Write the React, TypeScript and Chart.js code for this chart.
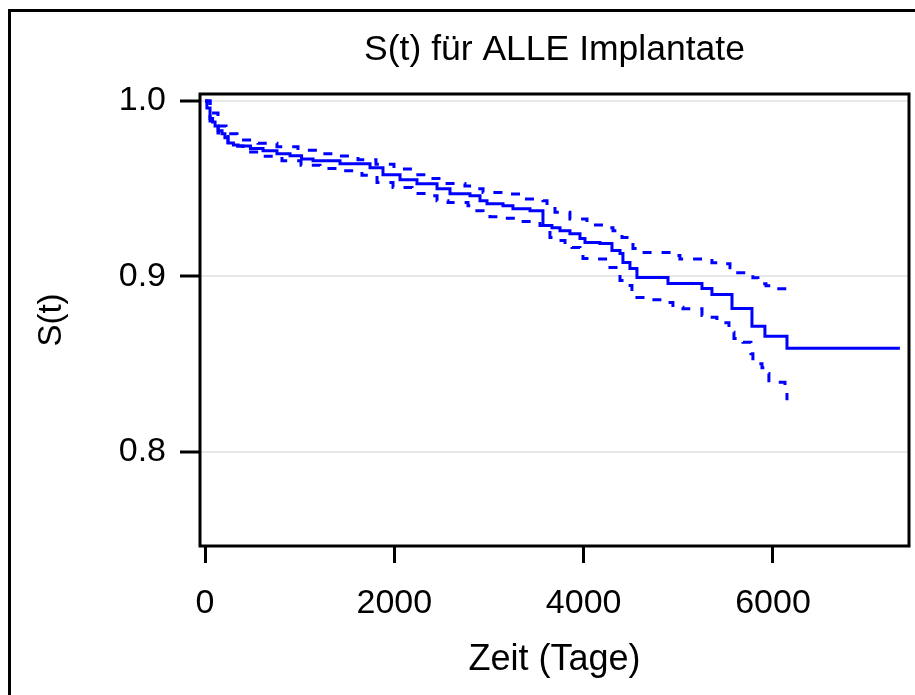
import { useEffect, useRef } from 'react';
import { Chart, registerables } from 'chart.js';

Chart.register(...registerables);

// Kaplan-Meier estimate S(t), all implants (time in days)
const mainTime = [0, 20, 53, 80, 106, 140, 180, 210, 243, 300, 349, 480, 613, 760, 898, 1020, 1141, 1426, 1743, 1880, 2060, 2239, 2451, 2588, 2799, 2905, 2979, 3148, 3253, 3433, 3570, 3665, 3750, 3855, 3961, 4014, 4172, 4299, 4384, 4415, 4489, 4563, 4891, 5250, 5355, 5567, 5778, 5915, 6148, 7341];
const mainSurv = [1.0, 0.996, 0.99, 0.988, 0.9858, 0.983, 0.9813, 0.979, 0.9761, 0.975, 0.9744, 0.973, 0.9716, 0.97, 0.9688, 0.967, 0.9659, 0.9642, 0.9619, 0.958, 0.9551, 0.9528, 0.95, 0.9472, 0.946, 0.9432, 0.9415, 0.9403, 0.9386, 0.9375, 0.929, 0.9278, 0.926, 0.9244, 0.9216, 0.9193, 0.9188, 0.9148, 0.9131, 0.908, 0.9045, 0.8994, 0.896, 0.8932, 0.8898, 0.8818, 0.8716, 0.8659, 0.8591, 0.8591];

// upper confidence limit
const upperTime = [0, 53, 137, 222, 338, 560, 760, 982, 1183, 1415, 1616, 1806, 1996, 2197, 2356, 2535, 2746, 2820, 2937, 3148, 3349, 3570, 3613, 3697, 3855, 4035, 4278, 4310, 4405, 4458, 4521, 4574, 4933, 5017, 5355, 5429, 5546, 5588, 5725, 5788, 5841, 5926, 6042, 6148];
const upperSurv = [1.0, 0.9932, 0.9858, 0.9813, 0.9778, 0.9759, 0.9739, 0.972, 0.97, 0.9686, 0.9665, 0.964, 0.9612, 0.958, 0.9558, 0.953, 0.9516, 0.95, 0.9478, 0.947, 0.9441, 0.9432, 0.9403, 0.9366, 0.9328, 0.9293, 0.9278, 0.9261, 0.9222, 0.9193, 0.916, 0.9137, 0.9119, 0.91, 0.9078, 0.9072, 0.905, 0.9021, 0.9021, 0.8993, 0.8958, 0.8947, 0.893, 0.8907];

// lower confidence limit
const lowerTime = [0, 53, 137, 243, 401, 613, 813, 1014, 1215, 1447, 1658, 1817, 1986, 2187, 2398, 2451, 2567, 2778, 2831, 2937, 3010, 3148, 3338, 3539, 3581, 3644, 3697, 3803, 3877, 3961, 3993, 4141, 4278, 4362, 4384, 4447, 4510, 4563, 4669, 4891, 4943, 5049, 5250, 5334, 5408, 5535, 5588, 5683, 5767, 5788, 5884, 5926, 5957, 6127, 6148];
const lowerSurv = [1.0, 0.9886, 0.9818, 0.9744, 0.971, 0.9685, 0.9659, 0.9634, 0.9615, 0.9602, 0.9577, 0.9535, 0.9507, 0.9473, 0.946, 0.9432, 0.9422, 0.9403, 0.9375, 0.9358, 0.9341, 0.9332, 0.9314, 0.929, 0.9261, 0.9222, 0.9205, 0.9176, 0.9165, 0.9131, 0.9102, 0.91, 0.9051, 0.904, 0.8977, 0.8949, 0.8909, 0.888, 0.8868, 0.8852, 0.8824, 0.8816, 0.8778, 0.8767, 0.8737, 0.8682, 0.8647, 0.8625, 0.856, 0.8503, 0.848, 0.8447, 0.8397, 0.8361, 0.8295];

const xTickValues = [0, 2000, 4000, 6000];
const yTickValues = [0.8, 0.9, 1.0];

const chartTitle = 'S(t) für ALLE Implantate';
const xTitle = 'Zeit (Tage)';
const yTitle = 'S(t)';

const toPoints = (t: number[], s: number[]) => t.map((x, i) => ({ x, y: s[i] }));

const FONT = "'Liberation Sans', Arial, Helvetica, sans-serif";
const BLUE = '#0000ff';

export default function App() {
  const ref = useRef<HTMLCanvasElement | null>(null);

  useEffect(() => {
    if (!ref.current) return;
    const framePlugin = {
      id: 'framePlugin',
      beforeDraw(chart: any) {
        const ctx = chart.ctx;
        ctx.save();
        ctx.fillStyle = '#ffffff';
        ctx.fillRect(0, 0, chart.width, chart.height);
        ctx.strokeStyle = '#000000';
        ctx.lineWidth = 3;
        ctx.strokeRect(9.5, 10.5, 2000, 2000);
        ctx.restore();
      },
      afterDraw(chart: any) {
        const { left, top, right, bottom } = chart.chartArea;
        const ctx = chart.ctx;
        ctx.save();
        ctx.strokeStyle = '#000000';
        ctx.lineWidth = 3;
        ctx.strokeRect(left, top, right - left, bottom - top);
        ctx.restore();
      },
    };

    const chart = new Chart(ref.current, {
      type: 'line',
      data: {
        datasets: [
          {
            data: toPoints(upperTime, upperSurv),
            borderColor: BLUE,
            borderWidth: 3,
            borderDash: [9, 10],
            stepped: true,
            pointRadius: 0,
            fill: false,
          },
          {
            data: toPoints(lowerTime, lowerSurv),
            borderColor: BLUE,
            borderWidth: 3,
            borderDash: [9, 10],
            stepped: true,
            pointRadius: 0,
            fill: false,
          },
          {
            data: toPoints(mainTime, mainSurv),
            borderColor: BLUE,
            borderWidth: 3,
            stepped: true,
            pointRadius: 0,
            fill: false,
          },
        ],
      },
      options: {
        animation: false,
        responsive: false,
        layout: { padding: { left: 0, right: 6, top: 0, bottom: 0 } },
        plugins: {
          legend: { display: false },
          tooltip: { enabled: false },
          title: {
            display: true,
            text: chartTitle,
            fullSize: false,
            color: '#000',
            font: { family: FONT, size: 35.5, weight: 'normal', lineHeight: 1.2 },
            padding: { top: 29, bottom: 22.4 },
          },
        },
        scales: {
          x: {
            type: 'linear',
            min: -53,
            max: 7437,
            afterBuildTicks: (s: any) => {
              s.ticks = xTickValues.map((v) => ({ value: v }));
            },
            afterFit: (s: any) => {
              s.height = 149;
            },
            ticks: {
              color: '#000',
              font: { family: FONT, size: 34, lineHeight: 1.2 },
              padding: 20,
              maxRotation: 0,
              autoSkip: false,
              callback: (v: any) => String(v),
            },
            grid: {
              drawOnChartArea: false,
              drawTicks: true,
              tickLength: 17,
              tickColor: '#000',
              tickWidth: 3,
            },
            border: { display: false },
            title: {
              display: true,
              text: xTitle,
              color: '#000',
              font: { family: FONT, size: 36, lineHeight: 1.2 },
              padding: { top: 0, bottom: 13 },
            },
          },
          y: {
            type: 'linear',
            min: 0.7464,
            max: 1.004,
            afterBuildTicks: (s: any) => {
              s.ticks = yTickValues.map((v) => ({ value: v }));
            },
            afterFit: (s: any) => {
              s.width = 200;
            },
            ticks: {
              color: '#000',
              font: { family: FONT, size: 34, lineHeight: 1.2 },
              padding: 14,
              autoSkip: false,
              callback: (v: any) => Number(v).toFixed(1),
            },
            grid: {
              color: '#e8e8e8',
              lineWidth: 2,
              drawTicks: true,
              tickLength: 20,
              tickColor: '#000',
              tickWidth: 3,
            },
            border: { display: false },
            title: {
              display: true,
              text: yTitle,
              color: '#000',
              font: { family: FONT, size: 33, lineHeight: 1.2 },
              padding: { top: 32, bottom: 0 },
            },
          },
        },
      },
      plugins: [framePlugin],
    } as any);

    return () => chart.destroy();
  }, []);

  return (
    <div style={{ position: 'fixed', left: 0, top: 0, width: 915, height: 695 }}>
      <canvas ref={ref} width={915} height={695} style={{ display: 'block' }} />
    </div>
  );
}
